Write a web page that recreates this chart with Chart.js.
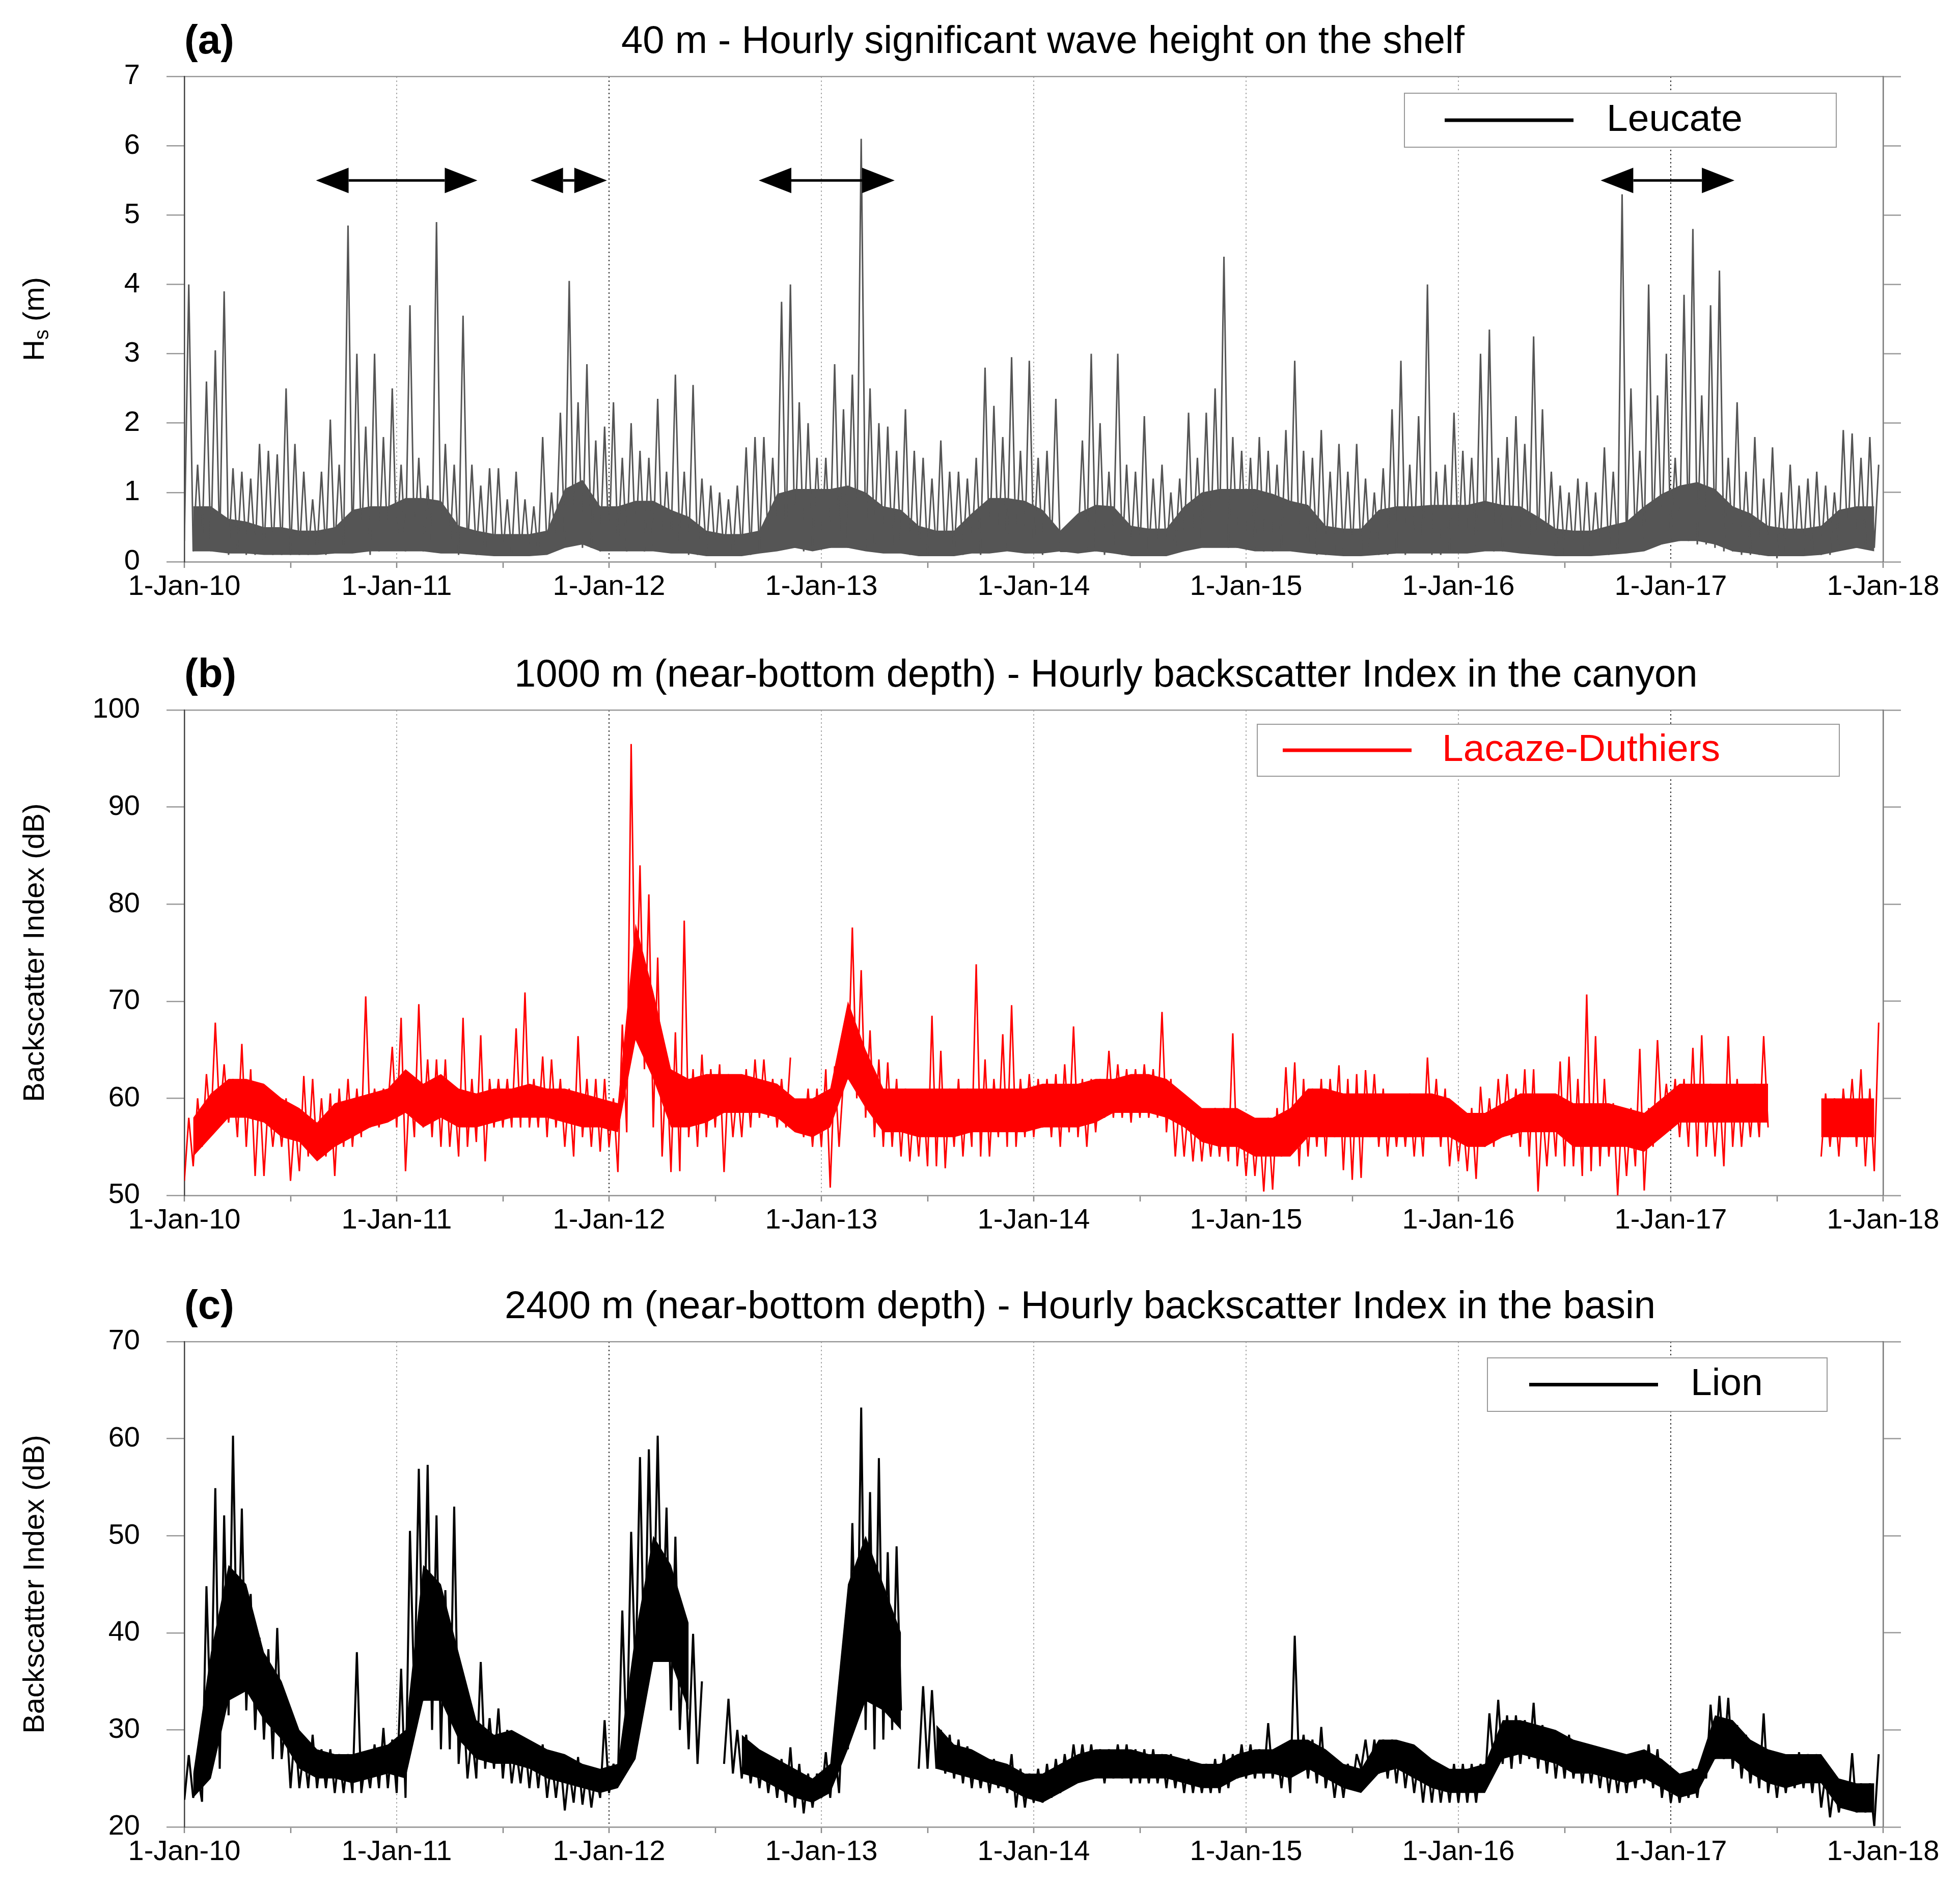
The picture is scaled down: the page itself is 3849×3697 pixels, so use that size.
<!DOCTYPE html>
<html>
<head>
<meta charset="utf-8">
<script src="https://cdn.jsdelivr.net/npm/chart.js@4.4.1/dist/chart.umd.min.js"></script>
<style>
  html, body { margin: 0; padding: 0; background: #fff; overflow: hidden; }
  canvas { position: absolute; left: 0; }
</style>
</head>
<body>
<canvas id="panelA" width="3849" height="1244" style="top:0px"></canvas>
<canvas id="panelB" width="3849" height="1240" style="top:1244px"></canvas>
<canvas id="panelC" width="3849" height="1213" style="top:2484px"></canvas>
<script>
const FONT = '"Liberation Sans", Arial, Helvetica, sans-serif';

// time axis: half-month bins, each bin gives its low then its high
const startYear = 2010;
const binWidth = 1 / 24;
// dense part of each record, read per month (bottom and top of the solid ink)
const bandWidth = 1 / 12;

const yearTicks = [2010, 2011, 2012, 2013, 2014, 2015, 2016, 2017, 2018];
const yearLabels = ['1-Jan-10', '1-Jan-11', '1-Jan-12', '1-Jan-13', '1-Jan-14',
                    '1-Jan-15', '1-Jan-16', '1-Jan-17', '1-Jan-18'];

// (a) Leucate, significant wave height (m)
const hsLow = [
  0.3,0.15,0.2,0.15,0.2,0.1,0.15,0.1,0.1,0.15,0.1,0.1,0.1,0.1,0.1,0.15,0.1,0.15,0.2,0.15,0.2,0.1,0.15,0.2,
  0.2,0.15,0.2,0.15,0.2,0.15,0.15,0.1,0.15,0.1,0.1,0.1,0.1,0.1,0.1,0.1,0.1,0.15,0.2,0.3,0.3,0.2,0.2,0.15,
  0.2,0.2,0.15,0.2,0.15,0.2,0.15,0.2,0.15,0.1,0.1,0.1,0.1,0.1,0.1,0.15,0.1,0.15,0.2,0.25,0.2,0.2,0.15,0.2,
  0.2,0.2,0.25,0.2,0.25,0.2,0.2,0.15,0.15,0.15,0.1,0.1,0.1,0.1,0.1,0.1,0.1,0.15,0.1,0.15,0.15,0.2,0.15,0.15,
  0.15,0.1,0.15,0.15,0.15,0.2,0.15,0.15,0.1,0.15,0.1,0.1,0.1,0.1,0.1,0.1,0.15,0.2,0.2,0.25,0.25,0.3,0.2,0.2,
  0.2,0.2,0.15,0.15,0.2,0.2,0.15,0.15,0.1,0.1,0.1,0.1,0.1,0.1,0.1,0.1,0.1,0.15,0.1,0.15,0.15,0.1,0.1,0.15,
  0.15,0.15,0.2,0.2,0.15,0.15,0.15,0.15,0.2,0.15,0.1,0.1,0.1,0.1,0.1,0.1,0.1,0.1,0.15,0.15,0.3,0.3,0.3,0.25,
  0.3,0.3,0.3,0.25,0.25,0.2,0.15,0.15,0.1,0.1,0.1,0.1,0.05,0.1,0.1,0.1,0.1,0.1,0.1,0.25,0.25,0.2,0.2,0.2
];
const hsHigh = [
  4.0,1.4,2.6,3.05,3.9,1.35,1.3,1.2,1.7,1.6,1.55,2.5,1.7,1.3,0.9,1.3,2.05,1.4,4.85,3.0,1.95,3.0,1.8,2.5,
  1.4,3.7,1.5,1.1,4.9,1.7,1.4,3.55,1.4,1.1,1.35,1.35,0.9,1.3,0.9,0.8,1.8,1.0,2.15,4.05,2.3,2.85,1.75,1.95,
  2.3,1.5,2.0,1.6,1.5,2.35,1.3,2.7,1.3,2.55,1.2,1.1,1.0,0.9,1.1,1.65,1.8,1.8,1.5,3.75,4.0,2.3,2.0,1.5,
  1.5,2.85,2.2,2.7,6.1,2.5,2.0,1.95,1.6,2.2,1.6,1.5,1.2,1.75,1.3,1.3,1.2,1.5,2.8,2.25,1.8,2.95,1.6,2.9,
  1.5,1.6,2.35,0.15,0.15,1.75,3.0,2.0,1.3,3.0,1.4,1.3,2.1,1.2,1.4,1.0,1.2,2.15,1.5,2.15,2.5,4.4,1.8,1.6,
  1.5,1.8,1.6,1.4,1.9,2.9,1.6,1.5,1.9,1.3,1.7,1.3,1.7,1.2,1.0,1.35,2.2,2.9,1.4,2.1,4.0,1.3,1.4,2.15,
  1.6,1.5,3.0,3.35,1.5,1.8,2.1,1.7,3.25,2.2,1.3,1.1,1.0,1.2,1.15,1.0,1.65,1.3,5.3,2.5,1.6,4.0,2.4,3.0,
  1.5,3.85,4.8,2.4,3.7,4.2,1.5,2.3,1.3,1.8,1.2,1.65,1.0,1.4,1.1,1.2,1.3,1.1,1.0,1.9,1.85,1.5,1.8,1.4
];
const hsBandLow = [
  0.15,0.15,0.12,0.12,0.1,0.1,0.1,0.1,0.12,0.12,0.15,0.15,
  0.15,0.15,0.12,0.12,0.1,0.08,0.08,0.08,0.1,0.2,0.25,0.15,
  0.15,0.15,0.15,0.12,0.12,0.08,0.08,0.08,0.12,0.15,0.2,0.15,
  0.2,0.2,0.15,0.12,0.12,0.08,0.08,0.08,0.12,0.12,0.15,0.12,
  0.12,0.15,0.12,0.15,0.12,0.08,0.08,0.08,0.15,0.2,0.2,0.2,
  0.15,0.15,0.15,0.12,0.1,0.08,0.08,0.1,0.12,0.12,0.12,0.12,
  0.12,0.15,0.15,0.12,0.1,0.08,0.08,0.08,0.1,0.12,0.15,0.25,
  0.3,0.3,0.25,0.15,0.12,0.08,0.08,0.08,0.1,0.15,0.2,0.15
];
const hsBandHigh = [
  0.8,0.8,0.62,0.58,0.5,0.5,0.45,0.45,0.5,0.75,0.8,0.8,
  0.92,0.92,0.88,0.52,0.45,0.4,0.4,0.4,0.45,1.05,1.18,0.8,
  0.8,0.88,0.88,0.75,0.65,0.45,0.4,0.4,0.45,0.98,1.05,1.05,
  1.05,1.1,1.0,0.8,0.75,0.52,0.45,0.45,0.7,0.92,0.92,0.88,
  0.75,0.45,0.7,0.82,0.8,0.52,0.48,0.48,0.8,1.0,1.05,1.05,
  1.05,0.98,0.88,0.82,0.52,0.48,0.48,0.75,0.8,0.8,0.82,0.82,
  0.82,0.88,0.82,0.8,0.65,0.48,0.45,0.45,0.52,0.58,0.8,0.98,
  1.1,1.15,1.05,0.8,0.7,0.52,0.48,0.48,0.52,0.75,0.8,0.8
];

// (b) Lacaze-Duthiers, backscatter index (dB)
const lacazeLow = [
  51.5,53,55,57,58,57.5,56,55,52,52,55,55,51.5,52.5,54,54,54,52,55,55,56,57,57,59,
  57,52.5,56,57,56,55,55,54,55,55.5,53.5,57,57,57,57,57,57,56,57,55,54,56,55,54.5,
  55,52.4,56.5,66,63,57,54,52.4,52.5,56,55,56,57,52.4,56,56,57,58,58,57,57,null,56,55,
  55,50.8,55,62,60,58,56,55,55,54,53.5,54,53,53,52.8,55,54,55,54,54,56,55,55,56,
  56,57,56,55,56.5,56,55,56.5,58,58,58,57.5,58,58,58,56.5,54,54,53.5,53.5,54,54,53.5,53,
  52,52,50.4,50.6,54,55,53,54,55,54,56,52.6,51.6,51.8,56,55,54,55,55,54,54,56,55,53,
  53.5,52.5,51.7,55,55,56,56,55,54,50.4,53,54,53,53,52,52.5,53,54,50,52,53,50.5,55,57,
  57,56,55,54,55,54,53,55,55,56,56,57,null,null,null,null,null,54,55,54,56,55,53,52.5
];
const lacazeHigh = [
  58,60,62.5,67.8,63.5,62,65.6,63,61,60,59.5,60,58,62.3,62,60,60.5,61,62,61,70.5,61,61,65.3,
  68.3,62,69.7,64,64,64,61,68.3,62,66.5,62,62,62,67.2,70.9,62,64.3,64,62,61,66.4,62,62,62,
  60,67.6,96.5,84,81,74.5,64,66.8,78.3,63,64.5,63,63.5,62.5,61,63,64,64,62,62,64.2,59,61,61,
  63,63.3,62,77.6,73.2,67,64,63.7,62,61,60,60.5,68.5,64.9,61,62,61,73.8,64,62,66.6,69.6,62,62.5,
  62,62,62.5,63.5,67.4,62,62,62,64.9,63.5,63,63,63.5,63,68.9,62,60,59.5,59,58.5,59,59,66.7,58,
  58,57.5,58,59,63.2,63.7,62,61,62,62,63.4,62,62.5,62.9,62.5,61,60,60,60.5,60,64.2,62,61,58.5,
  58,59,61.2,60,62,62.5,61,63,63,59,60,63.8,64.3,62,70.7,66.4,62,59.5,59,59,65.1,59,66,61.5,
  62,62,65.2,66.5,61.5,61,66.4,62,61,61.5,66.4,null,null,null,null,null,null,60.5,60,61,62,63,61,67.8
];
const lacazeBandLow = [
  54,56,58,58,57.5,56,55.5,53.5,55,56,57,57.5,
  58.5,57,58,57,57,57.5,58,58,58,57.5,57,57,
  56.5,66,62,57,57,57.5,58.5,58.5,58.5,58,56.5,56,
  57,62,59,56.5,56.5,56,56,56,56.5,56.5,56.5,56.5,
  57,57,57,57.5,58.5,58.5,58.5,58,57,55.5,55,55,
  54,54,54,56,56,56,56,56,56,56,56,56,
  55,55,56,56.5,56.5,56.5,55,55,55,55,54.5,56,
  57.5,57.5,57.5,57.5,57.5,57.5,null,null,56,56,56,56
];
const lacazeBandHigh = [
  58,60.5,62,62,61.5,60,59,57.5,59.5,60,60.5,61,
  63,61.5,62.5,61,60.5,61,61,61.5,61,61,60.5,60,
  59.5,78,71,63,62,62.5,62.5,62.5,62,61.5,60,60,
  61,70,65,61,61,61,61,61,61,61,61,61,
  61.5,61.5,61.5,62,62,62.5,62.5,62,60.5,59,59,59,
  58,58,59,61,61,60.5,60.5,60.5,60.5,60.5,60.5,60,
  58.5,58.5,59.5,60.5,60.5,60.5,59.5,59.5,59.5,59,58.5,60,
  61.5,61.5,61.5,61.5,61.5,61.5,null,null,60,60,60,60
];

// (c) Lion, backscatter index (dB)
const lionLow = [
  22.8,23,22.6,30,26,31.5,34,32,30,29,27,27,24,24,24,24,24,23.5,23.5,23.5,23.5,24,24,24,
  23.5,23,33,33,30,28,28,26.5,25,25,26,26,25,24.5,24.5,24,24,23,23,21.7,22.5,22.3,22,23,
  23.5,25,28,35,35,38,38,32,30,28,26.5,null,null,26.5,25.5,25,24.5,24,23.5,23,22.5,22,21.4,22,
  23,23,23.5,28,32,30,28,29,30,32,null,26,26,26,25.5,25,24.5,24,24,23.5,24,23.5,22,22,
  22.5,22.5,23,23.5,24.5,25,25,25,24.5,25,25,24.5,24.5,24.5,24.5,24,24,23.5,23.5,23.5,23.5,23.5,24,25,
  25,25,25,25,24,23.5,26,25,24.5,24,23,23,24,26,25.5,25.5,25,24.5,24,23.5,22.5,22.5,22.5,22.5,
  22.5,22.5,22.5,24.5,26.5,26.5,26,26.5,27,26,25.5,25,25,25,24.5,24.5,24,23.5,23.5,23.5,24,24.5,24,23,
  22.5,22.5,23,23,25,27,27,26,25,24.5,24,23.5,23,23.5,24,24,23.5,22,21,21.5,22,21.5,21.5,20.1
];
const lionHigh = [
  27.4,25.5,44.8,54.9,52.1,60.3,52.8,44,39.5,38.3,40.5,31.5,30,28,29.5,28,28,27.5,27.5,38,27,28.5,30.2,29,
  36.3,50.5,56.9,57.3,52.1,44.4,53,33,29.5,37,31.2,32.2,30,28,28.7,28.5,28.5,27,27,26,27.2,26,25.5,31,
  26.5,42.3,50.4,58.1,58.9,60.3,52.9,49.9,39.9,39.9,35,null,null,33.2,30,29.5,28,27.5,27,27,28.2,26.5,25.5,25.5,
  27.7,28.3,33.9,51.3,63.2,54.5,58,48.3,48.9,null,null,34.5,34.1,30,29.5,29,28.3,27.5,27,27,26.5,27.5,26,25.5,
  26,26.5,27,27.5,28.5,28.5,28.5,28,28,28.5,28.5,28,28,28,27.5,27.5,27,27,26.5,26.5,27,27.5,27.5,28.5,
  28.5,28,30.7,28,28,39.7,29.5,29,30.3,27,26.5,26.5,27.5,29,29,29,29,28.5,27.5,27,26.5,26.5,26,26.5,
  26.5,26.5,26.5,31.7,33.1,31.5,31.5,31,32.8,30.5,30,29,29.5,28.5,28,28,27.5,27,27,27,27.5,28.5,28,26.5,
  25.5,25.5,26,26.5,32.6,33.5,33.3,30.5,29.5,28.5,31.7,27,27,27,27.7,27.5,27.5,25.5,24.5,24.5,27.6,24.5,24.5,27.5
];
const lionBandLow = [
  23,25,33,34,31,29,26,25,25,24.5,25,25.5,
  25,33,33,29,27,26.5,26.5,26,25,24.5,24,23.5,
  24,27,37,37,32,null,null,25.5,25,24,23,22.5,
  23.5,28,33,32,30,null,26,25.5,25,24.5,24,23,
  22.5,23.5,24.5,25,25,25,25,25,24.5,24,24,25,
  25.5,25.5,25,26,25,24,23.5,25.5,26,25,24,23.5,
  23.5,23.5,27,27.5,27,26.5,25.5,25.5,25,24.5,25,24,
  23,23.5,27,27,25.5,24.5,24,24.5,24.5,22,21.5,21.5
];
const lionBandHigh = [
  25.5,38,47,45,38,35,30,28,27.5,27.5,28,28.5,
  30,47,45,38,31,29.5,30,29,28,27.5,26.5,26,
  26.5,40,50,47,41,null,null,29.5,28,27,26,25,
  26.5,45,50,45,40,null,30.5,28.5,28,27,26.5,25.5,
  25.5,26.5,27.5,28,28,28,27.5,27.5,27,26.5,26.5,27.5,
  28,28,29,29,28,26.5,26,29,29,28.5,27,26,
  26,26.5,31,31,30.5,30,29,28.5,28,27.5,28,27,
  25.5,26,31.5,31,29,28,27.5,27.5,27.5,25,24.5,24.5
];

// storm periods marked on panel (a)
const arrowStart = [2010.62, 2011.63, 2012.705, 2016.67];
const arrowEnd = [2011.38, 2011.99, 2013.345, 2017.30];
const arrowLevel = 5.5;

function buildSeries(lows, highs) {
  const pts = [];
  for (let k = 0; k < lows.length; k++) {
    const t = startYear + k * binWidth;
    pts.push({x: t, y: lows[k]});
    pts.push({x: t + binWidth / 2, y: highs[k]});
  }
  return pts;
}

function buildBand(values) {
  return values.map((v, m) => ({x: startYear + (m + 0.5) * bandWidth, y: v}));
}

// titles, rotated y title and the boxed legend
const panelDecor = {
  id: 'panelDecor',
  afterDraw(chart, args, o) {
    const ctx = chart.ctx;
    const area = chart.chartArea;
    ctx.save();
    ctx.fillStyle = '#000';
    ctx.textBaseline = 'middle';
    ctx.textAlign = 'left';
    ctx.font = 'bold 80px ' + FONT;
    ctx.fillText(o.letter, area.left, o.titleY);
    ctx.font = '76px ' + FONT;
    ctx.fillText(o.title, o.titleX, o.titleY);

    ctx.translate(o.yTitleX, (area.top + area.bottom) / 2);
    ctx.rotate(-Math.PI / 2);
    let total = 0;
    o.yTitle.forEach(p => {
      ctx.font = p.size + 'px ' + FONT;
      total += ctx.measureText(p.text).width;
    });
    let x = -total / 2;
    o.yTitle.forEach(p => {
      ctx.font = p.size + 'px ' + FONT;
      ctx.fillText(p.text, x, p.dy || 0);
      x += ctx.measureText(p.text).width;
    });
    ctx.restore();

    const lg = o.legend;
    const ym = (lg.y1 + lg.y2) / 2;
    ctx.save();
    ctx.fillStyle = '#fff';
    ctx.fillRect(lg.x1, lg.y1, lg.x2 - lg.x1, lg.y2 - lg.y1);
    ctx.strokeStyle = '#999';
    ctx.lineWidth = 2;
    ctx.strokeRect(lg.x1, lg.y1, lg.x2 - lg.x1, lg.y2 - lg.y1);
    ctx.strokeStyle = lg.color;
    ctx.lineWidth = 7;
    ctx.beginPath();
    ctx.moveTo(lg.lineX1, ym);
    ctx.lineTo(lg.lineX2, ym);
    ctx.stroke();
    ctx.fillStyle = lg.color;
    ctx.font = '75px ' + FONT;
    ctx.textBaseline = 'middle';
    ctx.textAlign = 'left';
    ctx.fillText(chart.data.datasets[0].label, lg.textX, ym);
    ctx.restore();
  }
};

// double headed arrows
const rangeArrows = {
  id: 'rangeArrows',
  afterDatasetsDraw(chart, args, o) {
    if (!o.starts) return;
    const {ctx, scales: {x, y}} = chart;
    const py = y.getPixelForValue(o.level);
    const hl = 64, hw = 25;
    ctx.save();
    ctx.fillStyle = '#000';
    ctx.strokeStyle = '#000';
    ctx.lineWidth = 5;
    o.starts.forEach((s, i) => {
      const x1 = x.getPixelForValue(s);
      const x2 = x.getPixelForValue(o.ends[i]);
      ctx.beginPath();
      ctx.moveTo(x1 + hl, py);
      ctx.lineTo(x2 - hl, py);
      ctx.stroke();
      ctx.beginPath();
      ctx.moveTo(x1, py);
      ctx.lineTo(x1 + hl, py - hw);
      ctx.lineTo(x1 + hl, py + hw);
      ctx.closePath();
      ctx.fill();
      ctx.beginPath();
      ctx.moveTo(x2, py);
      ctx.lineTo(x2 - hl, py - hw);
      ctx.lineTo(x2 - hl, py + hw);
      ctx.closePath();
      ctx.fill();
    });
    ctx.restore();
  }
};

function yearGridColor(ctx) {
  const v = ctx.tick.value;
  if (!Number.isInteger(v) || v === 2010 || v === 2018) return 'transparent';
  return (v === 2012 || v === 2017) ? '#333' : '#aaa';
}

function makePanel(id, p) {
  const canvas = document.getElementById(id);
  const xHeight = canvas.height - 150 - 953;
  return new Chart(canvas, {
    type: 'line',
    data: {
      datasets: [{
        label: p.label,
        data: buildSeries(p.lows, p.highs),
        borderColor: p.color,
        borderWidth: p.lineWidth,
        borderJoinStyle: 'bevel',
        pointRadius: 0,
        tension: 0,
        spanGaps: false,
        order: 0
      }, {
        label: 'band bottom',
        data: buildBand(p.bandLow),
        borderColor: 'transparent',
        borderWidth: 0,
        pointRadius: 0,
        tension: 0,
        fill: false,
        order: 1
      }, {
        label: 'band top',
        data: buildBand(p.bandHigh),
        borderColor: 'transparent',
        borderWidth: 0,
        pointRadius: 0,
        tension: 0,
        backgroundColor: p.color,
        fill: 1,
        order: 1
      }]
    },
    options: {
      responsive: false,
      animation: false,
      devicePixelRatio: 1,
      events: [],
      layout: { padding: { top: 150, left: 0, right: 0, bottom: 0 } },
      plugins: {
        legend: { display: false },
        tooltip: { enabled: false },
        title: { display: false },
        panelDecor: p.decor,
        rangeArrows: p.arrows || {}
      },
      scales: {
        x: {
          type: 'linear',
          min: 2010,
          max: 2018,
          ticks: {
            stepSize: 0.5,
            autoSkip: false,
            maxRotation: 0,
            padding: 4,
            color: '#000',
            font: { family: FONT, size: 56 },
            callback: v => {
              const i = yearTicks.indexOf(v);
              return i >= 0 ? yearLabels[i] : '';
            }
          },
          grid: {
            color: yearGridColor,
            lineWidth: 2,
            tickLength: 12,
            tickColor: '#888',
            tickWidth: 2.5
          },
          border: { display: true, color: '#999', width: 2.5, dash: [3, 5] },
          afterFit: s => { s.height = xHeight; }
        },
        y: {
          position: 'left',
          min: p.min,
          max: p.max,
          ticks: {
            stepSize: p.step,
            padding: 52,
            color: '#000',
            font: { family: FONT, size: 56 }
          },
          grid: {
            color: c => (c.tick.value === p.min || c.tick.value === p.max) ? '#999' : 'transparent',
            lineWidth: 2.5,
            tickLength: 35,
            tickColor: '#999',
            tickWidth: 2.5
          },
          border: { display: true, color: '#444', width: 2.5 },
          afterFit: s => { s.width = 362; }
        },
        y2: {
          position: 'right',
          min: p.min,
          max: p.max,
          ticks: { stepSize: p.step, display: false },
          grid: {
            drawOnChartArea: false,
            tickLength: 35,
            tickColor: '#999',
            tickWidth: 2.5
          },
          border: { display: true, color: '#777', width: 2.5 },
          afterFit: s => { s.width = 151; }
        }
      }
    },
    plugins: [panelDecor, rangeArrows]
  });
}

makePanel('panelA', {
  label: 'Leucate',
  lows: hsLow, highs: hsHigh,
  bandLow: hsBandLow, bandHigh: hsBandHigh,
  color: '#555555', lineWidth: 3,
  min: 0, max: 7, step: 1,
  decor: {
    letter: '(a)',
    title: '40 m - Hourly significant wave height on the shelf',
    titleX: 1220, titleY: 83,
    yTitleX: 70,
    yTitle: [{text: 'H', size: 58}, {text: 's', size: 40, dy: 14}, {text: ' (m)', size: 58}],
    legend: { x1: 2758, y1: 183, x2: 3606, y2: 289, lineX1: 2837, lineX2: 3090, textX: 3155, color: '#000' }
  },
  arrows: { starts: arrowStart, ends: arrowEnd, level: arrowLevel }
});

makePanel('panelB', {
  label: 'Lacaze-Duthiers',
  lows: lacazeLow, highs: lacazeHigh,
  bandLow: lacazeBandLow, bandHigh: lacazeBandHigh,
  color: '#ff0000', lineWidth: 3,
  min: 50, max: 100, step: 10,
  decor: {
    letter: '(b)',
    title: '1000 m (near-bottom depth) - Hourly backscatter Index in the canyon',
    titleX: 1010, titleY: 83,
    yTitleX: 70,
    yTitle: [{text: 'Backscatter Index (dB)', size: 58}],
    legend: { x1: 2469, y1: 178, x2: 3612, y2: 280, lineX1: 2519, lineX2: 2772, textX: 2832, color: '#ff0000' }
  }
});

makePanel('panelC', {
  label: 'Lion',
  lows: lionLow, highs: lionHigh,
  bandLow: lionBandLow, bandHigh: lionBandHigh,
  color: '#000000', lineWidth: 4,
  min: 20, max: 70, step: 10,
  decor: {
    letter: '(c)',
    title: '2400 m (near-bottom depth) - Hourly backscatter Index in the basin',
    titleX: 991, titleY: 83,
    yTitleX: 70,
    yTitle: [{text: 'Backscatter Index (dB)', size: 58}],
    legend: { x1: 2921, y1: 182, x2: 3588, y2: 287, lineX1: 3003, lineX2: 3256, textX: 3320, color: '#000' }
  }
});
</script>
</body>
</html>
